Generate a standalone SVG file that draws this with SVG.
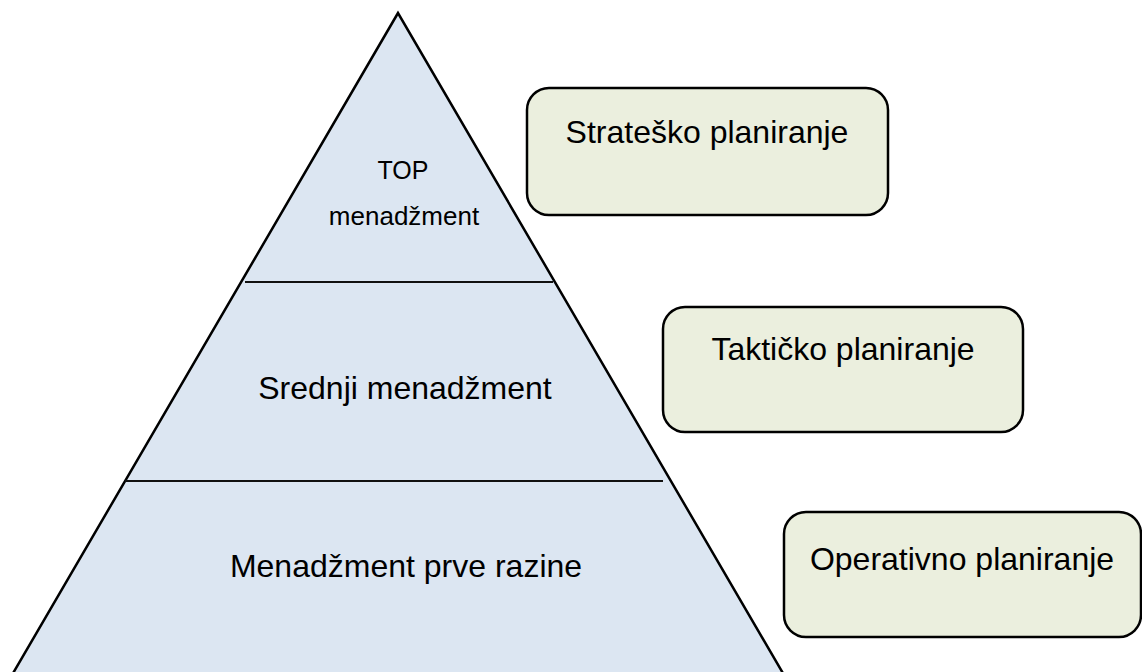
<svg xmlns="http://www.w3.org/2000/svg" width="1142" height="672" viewBox="0 0 1142 672">
<style>
.tri{fill:#DCE6F2;stroke:#000;stroke-width:2.5}
.sep{stroke:#111;stroke-width:2}
.box{fill:#EBEFDE;stroke:#000;stroke-width:2.5}
.t{font-family:"Liberation Sans",Arial,sans-serif;fill:#000;text-anchor:middle}
.big{font-size:32px}
</style>
<rect width="1142" height="672" fill="#fff"/>
<g id="pyramid">
<polygon class="tri" points="398,13 -5.5,705 801.5,705"/>
</g>
<g id="connectors">
<line class="sep" x1="245" y1="282" x2="553" y2="282"/>
<line class="sep" x1="125" y1="481" x2="663" y2="481"/>
</g>
<g id="top">
<text class="t" x="403" y="179" font-size="25">TOP</text>
<text class="t" x="404" y="225" font-size="26">menadžment</text>
</g>
<g id="srednji">
<text class="t big" x="405" y="399">Srednji menadžment</text>
</g>
<g id="prva">
<text class="t big" x="406" y="577">Menadžment prve razine</text>
</g>
<g id="strat">
<rect class="box" x="527" y="88" width="361" height="127" rx="22"/>
<text class="t big" x="707" y="143">Strateško planiranje</text>
</g>
<g id="takt">
<rect class="box" x="663" y="307" width="360" height="125" rx="22"/>
<text class="t big" x="843" y="360">Taktičko planiranje</text>
</g>
<g id="oper">
<rect class="box" x="784" y="512" width="357" height="125" rx="22"/>
<text class="t big" x="962" y="570">Operativno planiranje</text>
</g>
</svg>
